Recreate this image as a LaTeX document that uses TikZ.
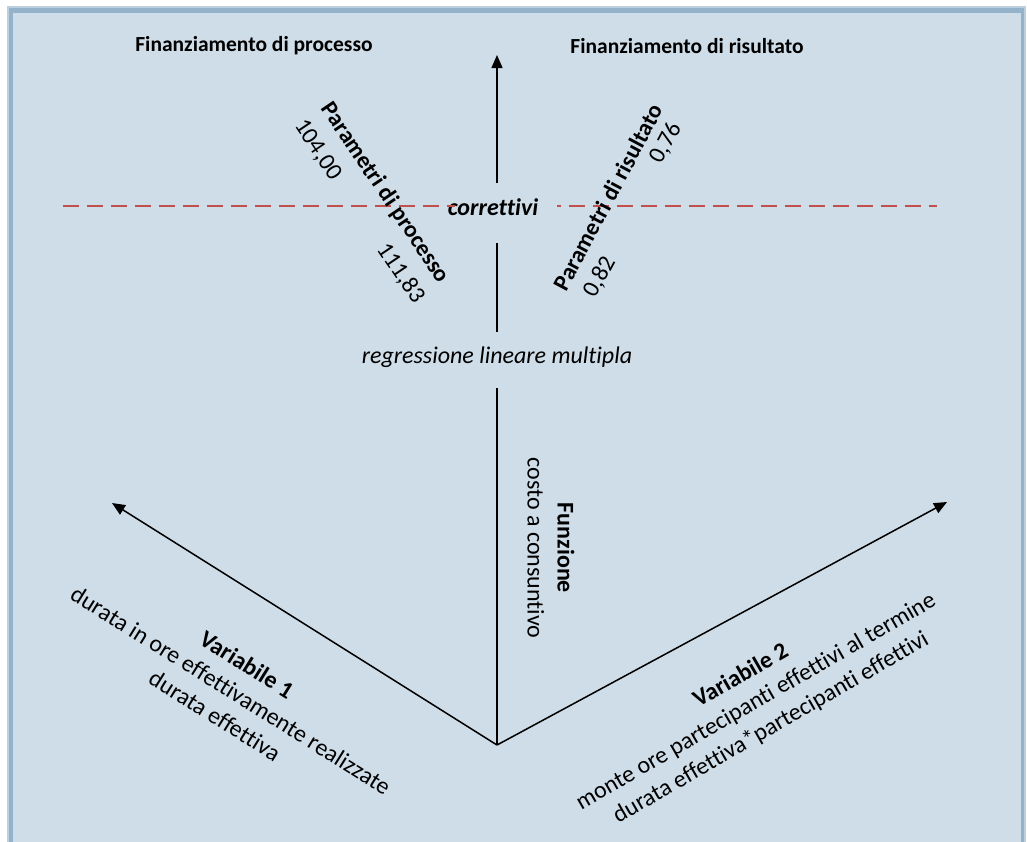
\documentclass[tikz,border=0pt]{standalone}
\usepackage{fontspec}
\setmainfont{Carlito}[Ligatures=NoCommon]
\usetikzlibrary{arrows.meta}
\definecolor{panel}{HTML}{CFDDE8}
\definecolor{panelrim}{HTML}{94B3CB}
\definecolor{rimlight}{HTML}{BCD0DF}
\definecolor{cut}{HTML}{C0504D}
\begin{document}
\begin{tikzpicture}[x=1pt,y=-1pt,
  lbl/.style={font=\fontsize{24}{30}\selectfont, align=center, inner sep=0pt},
  ttl/.style={font=\fontsize{21.5}{26}\selectfont\bfseries, inner sep=0pt},
  par/.style={font=\fontsize{23.5}{28}\selectfont\bfseries, inner sep=0pt},
  num/.style={font=\fontsize{24}{28}\selectfont, inner sep=0pt},
  axis/.style={line width=1.5pt},
  tip/.style={-{Triangle[length=13pt,width=11pt]}},
  cutline/.style={draw=cut, line width=1.3pt, dash pattern=on 16pt off 8pt}]
\useasboundingbox (0,0) rectangle (1027,841);
% framed panel
\begin{scope}
  \clip (0,0) rectangle (1027,841);
  \fill[rimlight] (7,6) rectangle (1026,860);
  \fill[panelrim] (9,8) rectangle (1024,860);
  \fill[panel] (13,13) rectangle (1021,860);
\end{scope}

% headings
\node[ttl] (fp) at (254,46) {Finanziamento di processo};
\node[ttl] (fr) at (687,46) {Finanziamento di risultato};

% main axes
\coordinate (O) at (497,745);
\coordinate (top) at (497,55);
\coordinate (v1) at (112,503);
\coordinate (v2) at (947,502);
\coordinate (a1) at (497,388);
\coordinate (a2) at (497,332);
\coordinate (a3) at (497,243);
\coordinate (a4) at (497,183);

\node[lbl, font=\fontsize{24}{28}\selectfont\itshape] (reg) at (497,357) {regressione lineare multipla};
\node[lbl, font=\fontsize{24}{28}\selectfont\bfseries\itshape] (corr) at (493,207) {correttivi};

\draw[axis] (O) -- (a1);
\draw[axis] (a2) -- (a3);
\draw[axis,tip] (a4) -- (top);
\draw[axis,tip] (O) -- (v1);
\draw[axis,tip] (O) -- (v2);

% dashed threshold
\coordinate (c1) at (63,206);
\coordinate (c2) at (455,206);
\coordinate (c3) at (557,206);
\coordinate (c4) at (937,206);
\draw[cutline] (c1) -- (c2);
\draw[cutline, dash phase=12pt] (c3) -- (c4);

% parameters
\node[par, rotate=-56] (pp) at (385,193) {Parametri di processo};
\node[num, rotate=-56] (pp1) at (318,150) {104,00};
\node[num, rotate=-56] (pp2) at (401,273) {111,83};
\node[par, rotate=62] (pr) at (608,197) {Parametri di risultato};
\node[num, rotate=62] (pr1) at (666,143) {0,76};
\node[num, rotate=62] (pr2) at (600,277) {0,82};

% function and variables
\node[lbl, rotate=-90] (fn) at (551,548) {\textbf{Funzione}\\costo a consuntivo};
\node[lbl, rotate=-32] (var1) at (231,690) {\textbf{Variabile 1}\\durata in ore effettivamente realizzate\\durata effettiva};
\node[lbl, rotate=30] (var2) at (756,702) {\textbf{Variabile 2}\\monte ore partecipanti effettivi al termine\\durata effettiva*partecipanti effettivi};
\end{tikzpicture}
\end{document}
